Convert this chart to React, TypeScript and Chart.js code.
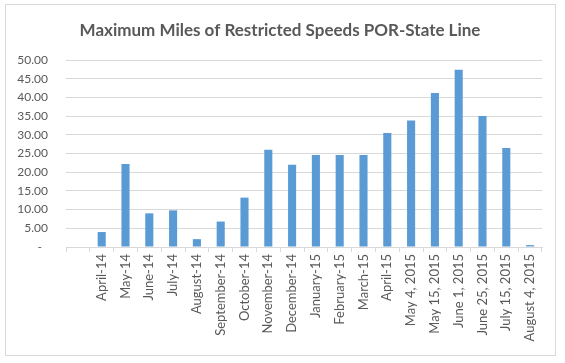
import React, { useEffect, useRef } from "react";
import { Chart, registerables } from "chart.js";

Chart.register(...registerables);

const categories: string[] = [
  "",
  "April-14",
  "May-14",
  "June-14",
  "July-14",
  "August-14",
  "September-14",
  "October-14",
  "November-14",
  "December-14",
  "January-15",
  "February-15",
  "March-15",
  "April-15",
  "May 4, 2015",
  "May 15, 2015",
  "June 1, 2015",
  "June 25, 2015",
  "July 15, 2015",
  "August 4, 2015",
];

const milesValues: (number | null)[] = [
  null, 4.0, 22.2, 9.0, 9.8, 2.1, 6.8, 13.2, 26.0, 22.0, 24.6, 24.6, 24.6, 30.5, 33.8, 41.2, 47.4, 35.0, 26.5, 0.5,
];

const yTicks: number[] = [0, 5, 10, 15, 20, 25, 30, 35, 40, 45, 50];

const titleText = "Maximum Miles of Restricted Speeds POR-State Line";

const frameBorder = {
  id: "frameBorder",
  beforeDraw(chart: Chart) {
    const ctx = chart.ctx;
    ctx.save();
    ctx.fillStyle = "#ffffff";
    ctx.fillRect(0, 0, chart.width, chart.height);
    ctx.strokeStyle = "#d9d9d9";
    ctx.lineWidth = 1;
    ctx.strokeRect(5.5, 4.5, 550, 351);
    ctx.restore();
  },
};

export default function App() {
  const canvasRef = useRef<HTMLCanvasElement | null>(null);

  useEffect(() => {
    document.body.style.margin = "0";
    const canvas = canvasRef.current;
    if (!canvas) return;
    const chart = new Chart(canvas, {
      type: "bar",
      data: {
        labels: categories,
        datasets: [
          {
            label: "Miles",
            data: milesValues,
            backgroundColor: "#5B9BD5",
            borderWidth: 0,
            barPercentage: 0.34,
            categoryPercentage: 1,
          },
        ],
      },
      options: {
        responsive: false,
        animation: false,
        devicePixelRatio: 1,
        layout: { padding: { left: 0, right: 5, top: 0, bottom: 0 } },
        plugins: {
          legend: { display: false },
          tooltip: { enabled: false },
          title: {
            display: true,
            text: titleText,
            color: "#595959",
            font: { family: "Lato", size: 17, weight: "bold", lineHeight: 1.2 },
            padding: { top: 20, bottom: 19.6 },
          },
        },
        scales: {
          x: {
            offset: true,
            grid: {
              display: true,
              drawOnChartArea: false,
              offset: true,
              tickLength: 5,
              color: "#d9d9d9",
            },
            border: { display: true, color: "#d9d9d9" },
            ticks: {
              color: "#595959",
              font: { family: "Lato", size: 13 },
              minRotation: 90,
              maxRotation: 90,
              autoSkip: false,
              padding: 2,
            },
            afterFit(scale: any) {
              scale.height = 116;
            },
          },
          y: {
            min: 0,
            max: 50,
            afterBuildTicks(scale: any) {
              scale.ticks = yTicks.map((v) => ({ value: v }));
            },
            grid: { color: "#d9d9d9", drawTicks: false },
            border: { display: false },
            ticks: {
              color: "#595959",
              font: { family: "Lato", size: 12 },
              padding: 18,
              callback: (v: any) => (Number(v) === 0 ? "-  " : Number(v).toFixed(2)),
            },
            afterFit(scale: any) {
              scale.width = 66;
            },
          },
          yRightSpace: {
            position: "right",
            display: true,
            min: 0,
            max: 50,
            grid: { display: false, drawTicks: false },
            border: { display: false },
            ticks: { display: false },
            afterFit(scale: any) {
              scale.width = 18;
            },
          },
        },
      },
      plugins: [frameBorder],
    });
    return () => chart.destroy();
  }, []);

  return (
    <div style={{ width: 565, height: 363 }}>
      <canvas ref={canvasRef} width={565} height={363} style={{ display: "block" }} />
    </div>
  );
}
